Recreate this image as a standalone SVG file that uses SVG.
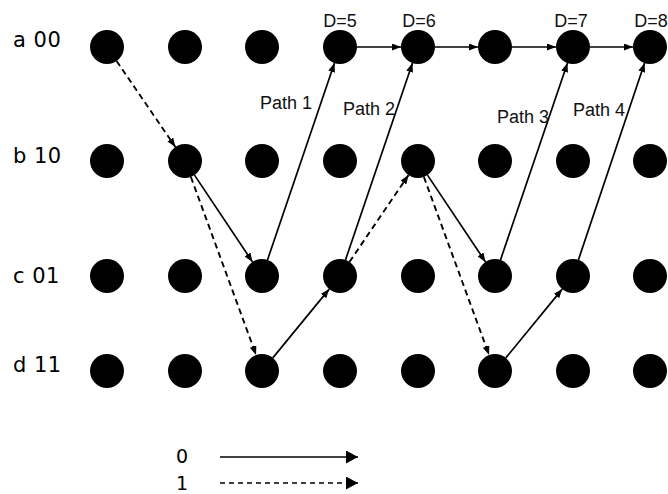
<svg xmlns="http://www.w3.org/2000/svg" width="668" height="494" viewBox="0 0 668 494">
<style>
.n{fill:#000}
.e{stroke:#000;stroke-width:1.7;fill:none}
.s{marker-end:url(#ah)}
.d{stroke-dasharray:6 4;stroke-width:1.9;marker-end:url(#ah)}
.row{font-family:"DejaVu Sans",Verdana,sans-serif;font-size:21px;fill:#000;letter-spacing:0.5px}
.lab{font-family:"Liberation Sans",Arial,sans-serif;font-size:18px;fill:#111}
.lg{font-family:"DejaVu Sans",Verdana,sans-serif;font-size:19px;fill:#000}
</style>
<defs>
<marker id="ah" markerUnits="userSpaceOnUse" markerWidth="9" markerHeight="7" refX="9" refY="3.5" orient="auto"><path d="M0,0 L9,3.5 L0,7 z" fill="#000"/></marker>
<marker id="ahl" markerUnits="userSpaceOnUse" markerWidth="12" markerHeight="13" refX="12" refY="6.5" orient="auto"><path d="M0,0 L12,6.5 L0,13 z" fill="#000"/></marker>
</defs>
<rect width="668" height="494" fill="#fff"/>
<g id="row-labels">
<text class="row" x="13" y="47">a 00</text>
<text class="row" x="13" y="163">b 10</text>
<text class="row" x="13" y="283">c 01</text>
<text class="row" x="13" y="372">d 11</text>
</g>
<g id="nodes">
<g id="a"><circle class="n" cx="107" cy="47" r="17"/><circle class="n" cx="185" cy="47" r="17"/><circle class="n" cx="262" cy="47" r="17"/><circle class="n" cx="340" cy="47" r="17"/><circle class="n" cx="418" cy="47" r="17"/><circle class="n" cx="495" cy="47" r="17"/><circle class="n" cx="573" cy="47" r="17"/><circle class="n" cx="650" cy="47" r="17"/></g>
<g id="b"><circle class="n" cx="107" cy="161" r="17"/><circle class="n" cx="185" cy="161" r="17"/><circle class="n" cx="262" cy="161" r="17"/><circle class="n" cx="340" cy="161" r="17"/><circle class="n" cx="418" cy="161" r="17"/><circle class="n" cx="495" cy="161" r="17"/><circle class="n" cx="573" cy="161" r="17"/><circle class="n" cx="650" cy="161" r="17"/></g>
<g id="c"><circle class="n" cx="107" cy="276" r="17"/><circle class="n" cx="185" cy="276" r="17"/><circle class="n" cx="262" cy="276" r="17"/><circle class="n" cx="340" cy="276" r="17"/><circle class="n" cx="418" cy="276" r="17"/><circle class="n" cx="495" cy="276" r="17"/><circle class="n" cx="573" cy="276" r="17"/><circle class="n" cx="650" cy="276" r="17"/></g>
<g id="d"><circle class="n" cx="107" cy="371" r="17"/><circle class="n" cx="185" cy="371" r="17"/><circle class="n" cx="262" cy="371" r="17"/><circle class="n" cx="340" cy="371" r="17"/><circle class="n" cx="418" cy="371" r="17"/><circle class="n" cx="495" cy="371" r="17"/><circle class="n" cx="573" cy="371" r="17"/><circle class="n" cx="650" cy="371" r="17"/></g>
</g>
<g id="connectors">
<line class="e d" x1="116.6" y1="61" x2="175.4" y2="147"/>
<line class="e s" x1="194.5" y1="175.1" x2="252.5" y2="261.9"/>
<line class="e d" x1="190.9" y1="177" x2="256.1" y2="355"/>
<line class="e s" x1="267.5" y1="259.9" x2="334.5" y2="63.1"/>
<line class="e s" x1="272.8" y1="357.9" x2="329.2" y2="289.1"/>
<line class="e s" x1="345.5" y1="259.9" x2="412.5" y2="63.1"/>
<line class="e d" x1="349.5" y1="261.9" x2="408.5" y2="175.1"/>
<line class="e s" x1="427.5" y1="175.1" x2="485.5" y2="261.9"/>
<line class="e d" x1="423.9" y1="177" x2="489.1" y2="355"/>
<line class="e s" x1="500.5" y1="259.9" x2="567.5" y2="63.1"/>
<line class="e s" x1="505.8" y1="357.9" x2="562.2" y2="289.1"/>
<line class="e s" x1="578.4" y1="259.9" x2="644.6" y2="63.1"/>
<line class="e s" x1="357" y1="47" x2="401" y2="47"/>
<line class="e s" x1="435" y1="47" x2="478" y2="47"/>
<line class="e s" x1="512" y1="47" x2="556" y2="47"/>
<line class="e s" x1="590" y1="47" x2="633" y2="47"/>
</g>
<g id="labels">
<text class="lab" x="340" y="27" text-anchor="middle">D=5</text>
<text class="lab" x="419" y="27" text-anchor="middle">D=6</text>
<text class="lab" x="571" y="27" text-anchor="middle">D=7</text>
<text class="lab" x="651" y="27" text-anchor="middle">D=8</text>
<text class="lab" x="260" y="109">Path 1</text>
<text class="lab" x="343" y="115">Path 2</text>
<text class="lab" x="497" y="123">Path 3</text>
<text class="lab" x="573" y="116">Path 4</text>
</g>
<g id="legend">
<text class="lg" x="176" y="463">0</text>
<text class="lg" x="176" y="490">1</text>
<line class="e" x1="220" y1="457" x2="358" y2="457" marker-end="url(#ahl)"/>
<line class="e" x1="220" y1="483" x2="358" y2="483" stroke-dasharray="5 4" marker-end="url(#ahl)"/>
</g>
</svg>
